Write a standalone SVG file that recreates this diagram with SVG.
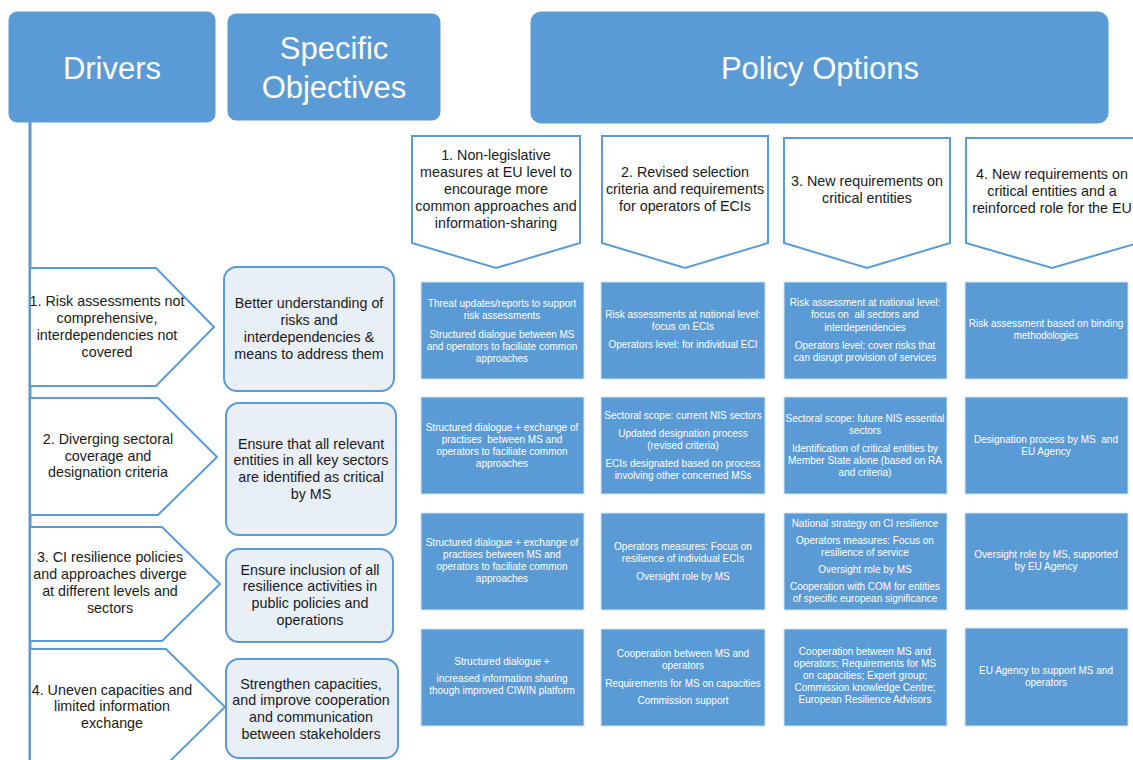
<svg xmlns="http://www.w3.org/2000/svg" width="1133" height="760" viewBox="0 0 1133 760">
<style>
.hdr{fill:#5B9BD5;stroke:#5B9BD5;stroke-width:1}
.ht{font-family:"Liberation Sans",Arial,sans-serif;font-size:31px;fill:#fff;text-anchor:middle}
.drv{fill:#fff;stroke:#5B9BD5;stroke-width:2}
.obj{fill:#E9EFF7;stroke:#5B9BD5;stroke-width:2}
.chev{fill:#fff;stroke:#5B9BD5;stroke-width:2}
.t{font-family:"Liberation Sans",Arial,sans-serif;font-size:14.3px;fill:#1a1a1a;text-anchor:middle}
.box{fill:#5B9BD5;stroke:#D4E3F2;stroke-width:1}
.s{font-family:"Liberation Sans",Arial,sans-serif;font-size:10px;fill:#fff;text-anchor:middle}
</style>
<rect width="1133" height="760" fill="#fff"/>
<g id="connectors">
<line x1="30" y1="121" x2="30" y2="760" stroke="#5B9BD5" stroke-width="3"/>
</g>
<g id="hdr-drivers"><rect class="hdr" x="9" y="12" width="206" height="110" rx="8"/><text class="ht" x="112" y="79">Drivers</text></g>
<g id="hdr-objectives"><rect class="hdr" x="228" y="14" width="212" height="106" rx="8"/><text class="ht" x="334" y="59">Specific</text><text class="ht" x="334" y="98">Objectives</text></g>
<g id="hdr-policy"><rect class="hdr" x="531" y="12" width="577" height="111" rx="10"/><text class="ht" x="820" y="79">Policy Options</text></g>

<g id="driver1"><polygon class="drv" points="30,268 156,268 214,327 156,386 30,386"/>
<text class="t" x="107" y="306">1. Risk assessments not</text><text class="t" x="107" y="323">comprehensive,</text><text class="t" x="107" y="340">interdependencies not</text><text class="t" x="107" y="357">covered</text></g>
<g id="driver2"><polygon class="drv" points="30,398 158,398 217,457 158,515 30,515"/>
<text class="t" x="108" y="444">2. Diverging sectoral</text><text class="t" x="108" y="461">coverage and</text><text class="t" x="108" y="477">designation criteria</text></g>
<g id="driver3"><polygon class="drv" points="30,527 162,527 220,584 162,641 30,641"/>
<text class="t" x="110" y="562">3. CI resilience policies</text><text class="t" x="110" y="579">and approaches diverge</text><text class="t" x="110" y="596">at different levels and</text><text class="t" x="110" y="613">sectors</text></g>
<g id="driver4"><polygon class="drv" points="30,649 166,649 225,707 166,765 30,765"/>
<text class="t" x="112" y="695">4. Uneven capacities and</text><text class="t" x="112" y="711">limited information</text><text class="t" x="112" y="728">exchange</text></g>

<g id="objective1"><rect class="obj" x="224" y="267" width="170" height="124" rx="13"/>
<text class="t" x="309" y="308">Better understanding of</text><text class="t" x="309" y="325">risks and</text><text class="t" x="309" y="342">interdependencies &amp;</text><text class="t" x="309" y="359">means to address them</text></g>
<g id="objective2"><rect class="obj" x="226" y="403" width="170" height="132" rx="13"/>
<text class="t" x="311" y="449">Ensure that all relevant</text><text class="t" x="311" y="465">entities in all key sectors</text><text class="t" x="311" y="482">are identified as critical</text><text class="t" x="311" y="499">by MS</text></g>
<g id="objective3"><rect class="obj" x="226" y="549" width="167" height="93" rx="13"/>
<text class="t" x="310" y="575">Ensure inclusion of all</text><text class="t" x="310" y="591">resilience activities in</text><text class="t" x="310" y="608">public policies and</text><text class="t" x="310" y="625">operations</text></g>
<g id="objective4"><rect class="obj" x="226" y="659" width="172" height="99" rx="13"/>
<text class="t" x="311" y="689">Strengthen capacities,</text><text class="t" x="311" y="705">and improve cooperation</text><text class="t" x="311" y="722">and communication</text><text class="t" x="311" y="739">between stakeholders</text></g>

<g id="option1"><polygon class="chev" points="412,136 580,136 580,243 496,268 412,243"/>
<text class="t" x="496" y="160">1. Non-legislative</text><text class="t" x="496" y="177">measures at EU level to</text><text class="t" x="496" y="194">encourage more</text><text class="t" x="496" y="211">common approaches and</text><text class="t" x="496" y="228">information-sharing</text></g>
<g id="option2"><polygon class="chev" points="602,136 768,136 768,243 685,268 602,243"/>
<text class="t" x="685" y="177">2. Revised selection</text><text class="t" x="685" y="194">criteria and requirements</text><text class="t" x="685" y="211">for operators of ECIs</text></g>
<g id="option3"><polygon class="chev" points="784,138 950,138 950,243 867,268 784,243"/>
<text class="t" x="867" y="186">3. New requirements on</text><text class="t" x="867" y="203">critical entities</text></g>
<g id="option4"><polygon class="chev" points="966,138 1138,138 1138,243 1052,268 966,243"/>
<text class="t" x="1052" y="179">4. New requirements on</text><text class="t" x="1052" y="196">critical entities and a</text><text class="t" x="1052" y="213">reinforced role for the EU</text></g>

<g id="r1c1"><rect class="box" x="421" y="282" width="163" height="97"/>
<text class="s" x="502" y="307">Threat updates/reports to support</text><text class="s" x="502" y="319">risk assessments</text><text class="s" x="502" y="338">Structured dialogue between MS</text><text class="s" x="502" y="350">and operators to faciliate common</text><text class="s" x="502" y="362">approaches</text></g>
<g id="r1c2"><rect class="box" x="601" y="282" width="164" height="97"/>
<text class="s" x="683" y="318">Risk assessments at national level:</text><text class="s" x="683" y="330">focus on ECIs</text><text class="s" x="683" y="348">Operators level: for individual ECI</text></g>
<g id="r1c3"><rect class="box" x="784" y="282" width="163" height="97"/>
<text class="s" x="865" y="306">Risk assessment at national level:</text><text class="s" x="865" y="318" xml:space="preserve">focus on  all sectors and</text><text class="s" x="865" y="331">interdependencies</text><text class="s" x="865" y="349">Operators level: cover risks that</text><text class="s" x="865" y="361">can disrupt provision of services</text></g>
<g id="r1c4"><rect class="box" x="965" y="282" width="163" height="97"/>
<text class="s" x="1046" y="327">Risk assessment based on binding</text><text class="s" x="1046" y="339">methodologies</text></g>

<g id="r2c1"><rect class="box" x="421" y="397" width="163" height="97"/>
<text class="s" x="502" y="431">Structured dialogue + exchange of</text><text class="s" x="502" y="443" xml:space="preserve">practises  between MS and</text><text class="s" x="502" y="455">operators to faciliate common</text><text class="s" x="502" y="467">approaches</text></g>
<g id="r2c2"><rect class="box" x="601" y="397" width="164" height="97"/>
<text class="s" x="683" y="419">Sectoral scope: current NIS sectors</text><text class="s" x="683" y="437">Updated designation process</text><text class="s" x="683" y="449">(revised criteria)</text><text class="s" x="683" y="467">ECIs designated based on process</text><text class="s" x="683" y="479">involving other concerned MSs</text></g>
<g id="r2c3"><rect class="box" x="784" y="397" width="163" height="97"/>
<text class="s" x="865" y="422">Sectoral scope: future NIS essential</text><text class="s" x="865" y="434">sectors</text><text class="s" x="865" y="452">Identification of critical entities by</text><text class="s" x="865" y="464">Member State alone (based on RA</text><text class="s" x="865" y="476">and criteria)</text></g>
<g id="r2c4"><rect class="box" x="965" y="397" width="163" height="97"/>
<text class="s" x="1046" y="443" xml:space="preserve">Designation process by MS  and</text><text class="s" x="1046" y="455">EU Agency</text></g>

<g id="r3c1"><rect class="box" x="421" y="513" width="163" height="97"/>
<text class="s" x="502" y="546">Structured dialogue + exchange of</text><text class="s" x="502" y="558">practises between MS and</text><text class="s" x="502" y="570">operators to faciliate common</text><text class="s" x="502" y="582">approaches</text></g>
<g id="r3c2"><rect class="box" x="601" y="513" width="164" height="97"/>
<text class="s" x="683" y="550">Operators measures: Focus on</text><text class="s" x="683" y="562">resilience of individual ECIs</text><text class="s" x="683" y="580">Oversight role by MS</text></g>
<g id="r3c3"><rect class="box" x="784" y="513" width="163" height="97"/>
<text class="s" x="865" y="527">National strategy on CI resilience</text><text class="s" x="865" y="544">Operators measures: Focus on</text><text class="s" x="865" y="556">resilience of service</text><text class="s" x="865" y="573">Oversight role by MS</text><text class="s" x="865" y="590">Cooperation with COM for entities</text><text class="s" x="865" y="602">of specific european significance</text></g>
<g id="r3c4"><rect class="box" x="965" y="513" width="163" height="97"/>
<text class="s" x="1046" y="558">Oversight role by MS, supported</text><text class="s" x="1046" y="570">by EU Agency</text></g>

<g id="r4c1"><rect class="box" x="421" y="629" width="163" height="97"/>
<text class="s" x="502" y="665">Structured dialogue +</text><text class="s" x="502" y="682">increased information sharing</text><text class="s" x="502" y="694">though improved CIWIN platform</text></g>
<g id="r4c2"><rect class="box" x="601" y="629" width="164" height="97"/>
<text class="s" x="683" y="657">Cooperation between MS and</text><text class="s" x="683" y="669">operators</text><text class="s" x="683" y="687">Requirements for MS on capacities</text><text class="s" x="683" y="704">Commission support</text></g>
<g id="r4c3"><rect class="box" x="784" y="629" width="163" height="97"/>
<text class="s" x="865" y="655">Cooperation between MS and</text><text class="s" x="865" y="667">operators; Requirements for MS</text><text class="s" x="865" y="679">on capacities; Expert group;</text><text class="s" x="865" y="691">Commission knowledge Centre;</text><text class="s" x="865" y="703">European Resilience Advisors</text></g>
<g id="r4c4"><rect class="box" x="965" y="628" width="163" height="98"/>
<text class="s" x="1046" y="674">EU Agency to support MS and</text><text class="s" x="1046" y="686">operators</text></g>
</svg>
